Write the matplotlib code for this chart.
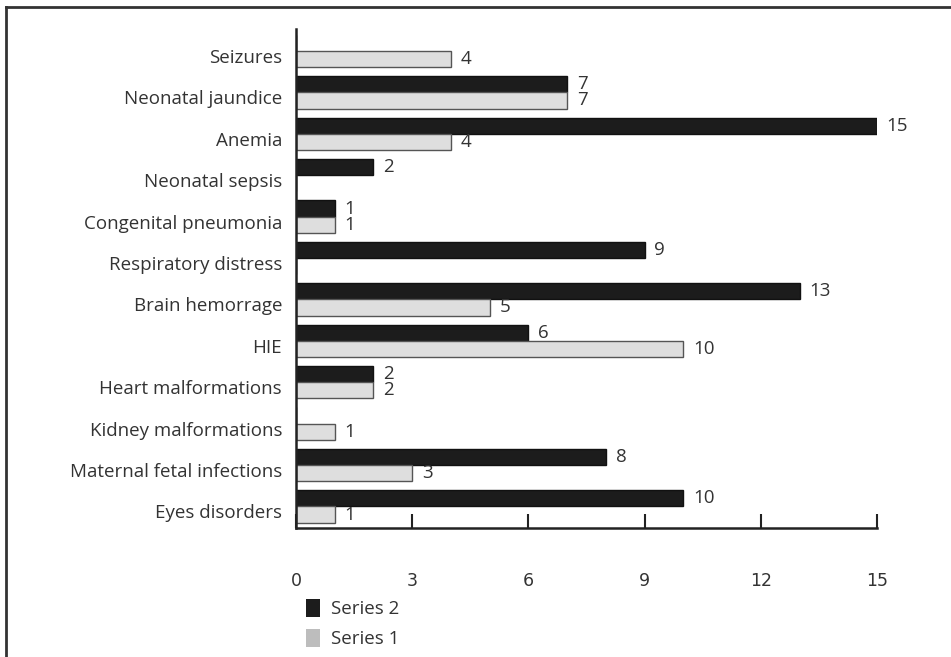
import matplotlib.pyplot as plt
from matplotlib.lines import Line2D
from matplotlib.patches import Patch
import numpy as np

categories = ["Eyes disorders", "Maternal fetal infections", "Kidney malformations",
              "Heart malformations", "HIE", "Brain hemorrage", "Respiratory distress",
              "Congenital pneumonia", "Neonatal sepsis", "Anemia", "Neonatal jaundice",
              "Seizures"]
series2 = [10, 8, 0, 2, 6, 13, 9, 1, 2, 15, 7, 0]
series1 = [1, 3, 1, 2, 10, 5, 0, 1, 0, 4, 7, 4]

plt.rcParams["font.family"] = ["Open Sans", "DejaVu Sans"]
txt = "#333333"

fig = plt.figure(figsize=(9.51, 6.57), dpi=100)
ax = fig.add_axes([296 / 951, 1 - 528 / 657, 581 / 951, 499 / 657])

y = np.arange(len(categories))
h = 0.39
ax.barh(y + h / 2, series2, height=h, color="#1c1c1c", edgecolor="#111111", linewidth=1)
ax.barh(y - h / 2, series1, height=h, color="#dedede", edgecolor="#555555", linewidth=1)

# value labels (zeros are not labelled)
for yi, v in zip(y, series2):
    if v:
        ax.text(v + 0.25, yi + h / 2, str(v), va="center", ha="left", fontsize=13.5, color=txt)
for yi, v in zip(y, series1):
    if v:
        ax.text(v + 0.25, yi - h / 2, str(v), va="center", ha="left", fontsize=13.5, color=txt)

ax.set_xlim(0, 15)
ax.set_ylim(-0.52, len(categories) - 1 + 0.53)
ax.set_yticks(y - 0.12)
ax.set_yticklabels(categories, fontsize=13.5, color=txt)
ax.tick_params(axis="y", length=0, pad=10)
ax.set_xticks([0, 3, 6, 9, 12, 15])
ax.tick_params(axis="x", direction="in", length=10, width=1.5, color="#222222",
               pad=32, labelsize=12.5, labelcolor=txt)
plt.setp(ax.get_xticklabels(), fontfamily=["Liberation Sans Narrow", "DejaVu Sans"])

for s in ["top", "right"]:
    ax.spines[s].set_visible(False)
for s in ["left", "bottom"]:
    ax.spines[s].set_linewidth(1.8)
    ax.spines[s].set_color("#222222")

handles = [Patch(facecolor="#1c1c1c", label="Series 2"),
           Patch(facecolor="#bdbdbd", label="Series 1")]
fig.legend(handles=handles, loc="upper left", bbox_to_anchor=(289 / 951, 1 - 582 / 657),
           frameon=False, fontsize=13.5, labelcolor=txt, handlelength=0.75,
           handleheight=1.1, handletextpad=0.6, labelspacing=0.55)

# outer frame (top and left edges only visible)
fig.add_artist(Line2D([6 / 951, 1], [1 - 7 / 657, 1 - 7 / 657], color="#333333",
                      linewidth=2, transform=fig.transFigure))
fig.add_artist(Line2D([6 / 951, 6 / 951], [0, 1 - 7 / 657], color="#333333",
                      linewidth=2, transform=fig.transFigure))

fig.savefig("out.png", dpi=100)
